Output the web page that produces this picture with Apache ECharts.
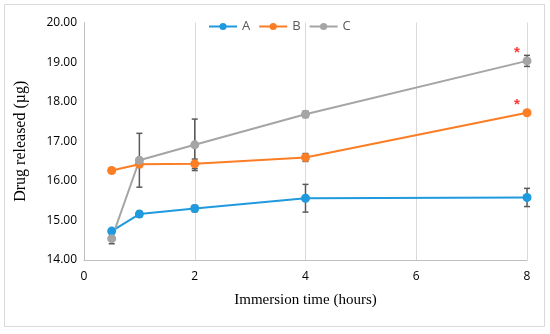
<!DOCTYPE html>
<html>
<head>
<meta charset="utf-8">
<script src="https://cdn.jsdelivr.net/npm/echarts@6/dist/echarts.min.js"></script>
<style>html,body{margin:0;padding:0;background:#fff}#c{width:550px;height:334px}</style>
</head>
<body>
<div id="c"></div>
<script>
var times = [0.5, 1, 2, 4, 8];
var seriesNames = ['A', 'B', 'C'];
var valuesA = [14.73, 15.16, 15.30, 15.56, 15.58];
var valuesB = [16.26, 16.42, 16.43, 16.59, 17.72];
var valuesC = [14.54, 16.52, 16.91, 17.68, 19.03];
var errA = [0.03, 0.07, 0.08, 0.35, 0.23];
var errB = [0.04, 0.05, 0.12, 0.10, 0.02];
var errC = [0.13, 0.68, 0.65, 0.08, 0.14];
var sigTimes = [8, 8];
var sigValues = [19.03, 17.72];
var xTicks = [0, 2, 4, 6, 8];
var yTicks = [14, 15, 16, 17, 18, 19, 20];
var colors = ['#1f9ade', '#fb7d24', '#a5a5a5'];

var chart = echarts.init(document.getElementById('c'));

function lineSeries(name, vals, color) {
  return {
    name: name, type: 'line', z: 3,
    data: times.map(function (t, i) { return [t, vals[i]]; }),
    symbol: 'circle', symbolSize: 9,
    lineStyle: { color: color, width: 2 },
    itemStyle: { color: color }
  };
}
function errSeries(vals, errs) {
  return {
    type: 'custom', z: 2, silent: true,
    data: times.map(function (t, i) { return [t, vals[i] - errs[i], vals[i] + errs[i]]; }),
    renderItem: function (params, api) {
      var lo = api.coord([api.value(0), api.value(1)]);
      var hi = api.coord([api.value(0), api.value(2)]);
      var w = 3;
      var st = { stroke: '#595959', lineWidth: 1.5 };
      return { type: 'group', children: [
        { type: 'line', shape: { x1: lo[0], y1: lo[1], x2: hi[0], y2: hi[1] }, style: st },
        { type: 'line', shape: { x1: lo[0] - w, y1: lo[1], x2: lo[0] + w, y2: lo[1] }, style: st },
        { type: 'line', shape: { x1: hi[0] - w, y1: hi[1], x2: hi[0] + w, y2: hi[1] }, style: st }
      ]};
    }
  };
}

var option = {
  animation: false,
  backgroundColor: '#fff',
  graphic: [{ type: 'rect', shape: { x: 4.5, y: 4.5, width: 540, height: 322 }, style: { fill: 'none', stroke: '#d9d9d9', lineWidth: 1 } }],
  legend: {
    data: seriesNames, left: 203, top: 15, itemWidth: 28, itemHeight: 9, itemGap: 8,
    textStyle: { color: '#595959', fontSize: 13, fontFamily: 'Open Sans' }
  },
  grid: { left: 84, right: 23, top: 22.5, bottom: 74 },
  xAxis: {
    type: 'value', min: xTicks[0], max: xTicks[xTicks.length - 1], interval: 2,
    name: 'Immersion time (hours)', nameLocation: 'middle', nameGap: 33,
    nameTextStyle: { fontFamily: 'Liberation Serif', fontSize: 15, color: '#000' },
    axisLine: { show: true, lineStyle: { color: '#bfbfbf', width: 1 } },
    axisTick: { show: false },
    axisLabel: { color: '#000', fontSize: 12, fontFamily: 'Open Sans', margin: 11 },
    splitLine: { show: true, lineStyle: { color: '#d9d9d9', width: 1 } }
  },
  yAxis: {
    type: 'value', min: yTicks[0], max: yTicks[yTicks.length - 1], interval: 1,
    name: 'Drug released (µg)', nameLocation: 'middle', nameGap: 55,
    nameTextStyle: { fontFamily: 'Liberation Serif', fontSize: 16, color: '#000' },
    axisLine: { show: true, lineStyle: { color: '#bfbfbf', width: 1 } },
    axisTick: { show: false },
    axisLabel: { color: '#000', fontSize: 12, fontFamily: 'Open Sans', margin: 7,
      formatter: function (v) { return v.toFixed(2); } },
    splitLine: { show: false }
  },
  series: [
    errSeries(valuesA, errA), errSeries(valuesB, errB), errSeries(valuesC, errC),
    lineSeries('A', valuesA, colors[0]),
    lineSeries('B', valuesB, colors[1]),
    lineSeries('C', valuesC, colors[2]),
    {
      type: 'scatter', z: 4, silent: true, symbolSize: 0,
      data: sigTimes.map(function (t, i) { return [t, sigValues[i]]; }),
      label: { show: true, formatter: '*', color: '#ff0000', fontSize: 15, fontWeight: 'bold',
        position: 'inside', offset: [-10, -8] }
    }
  ]
};
chart.setOption(option);
</script>
</body>
</html>
